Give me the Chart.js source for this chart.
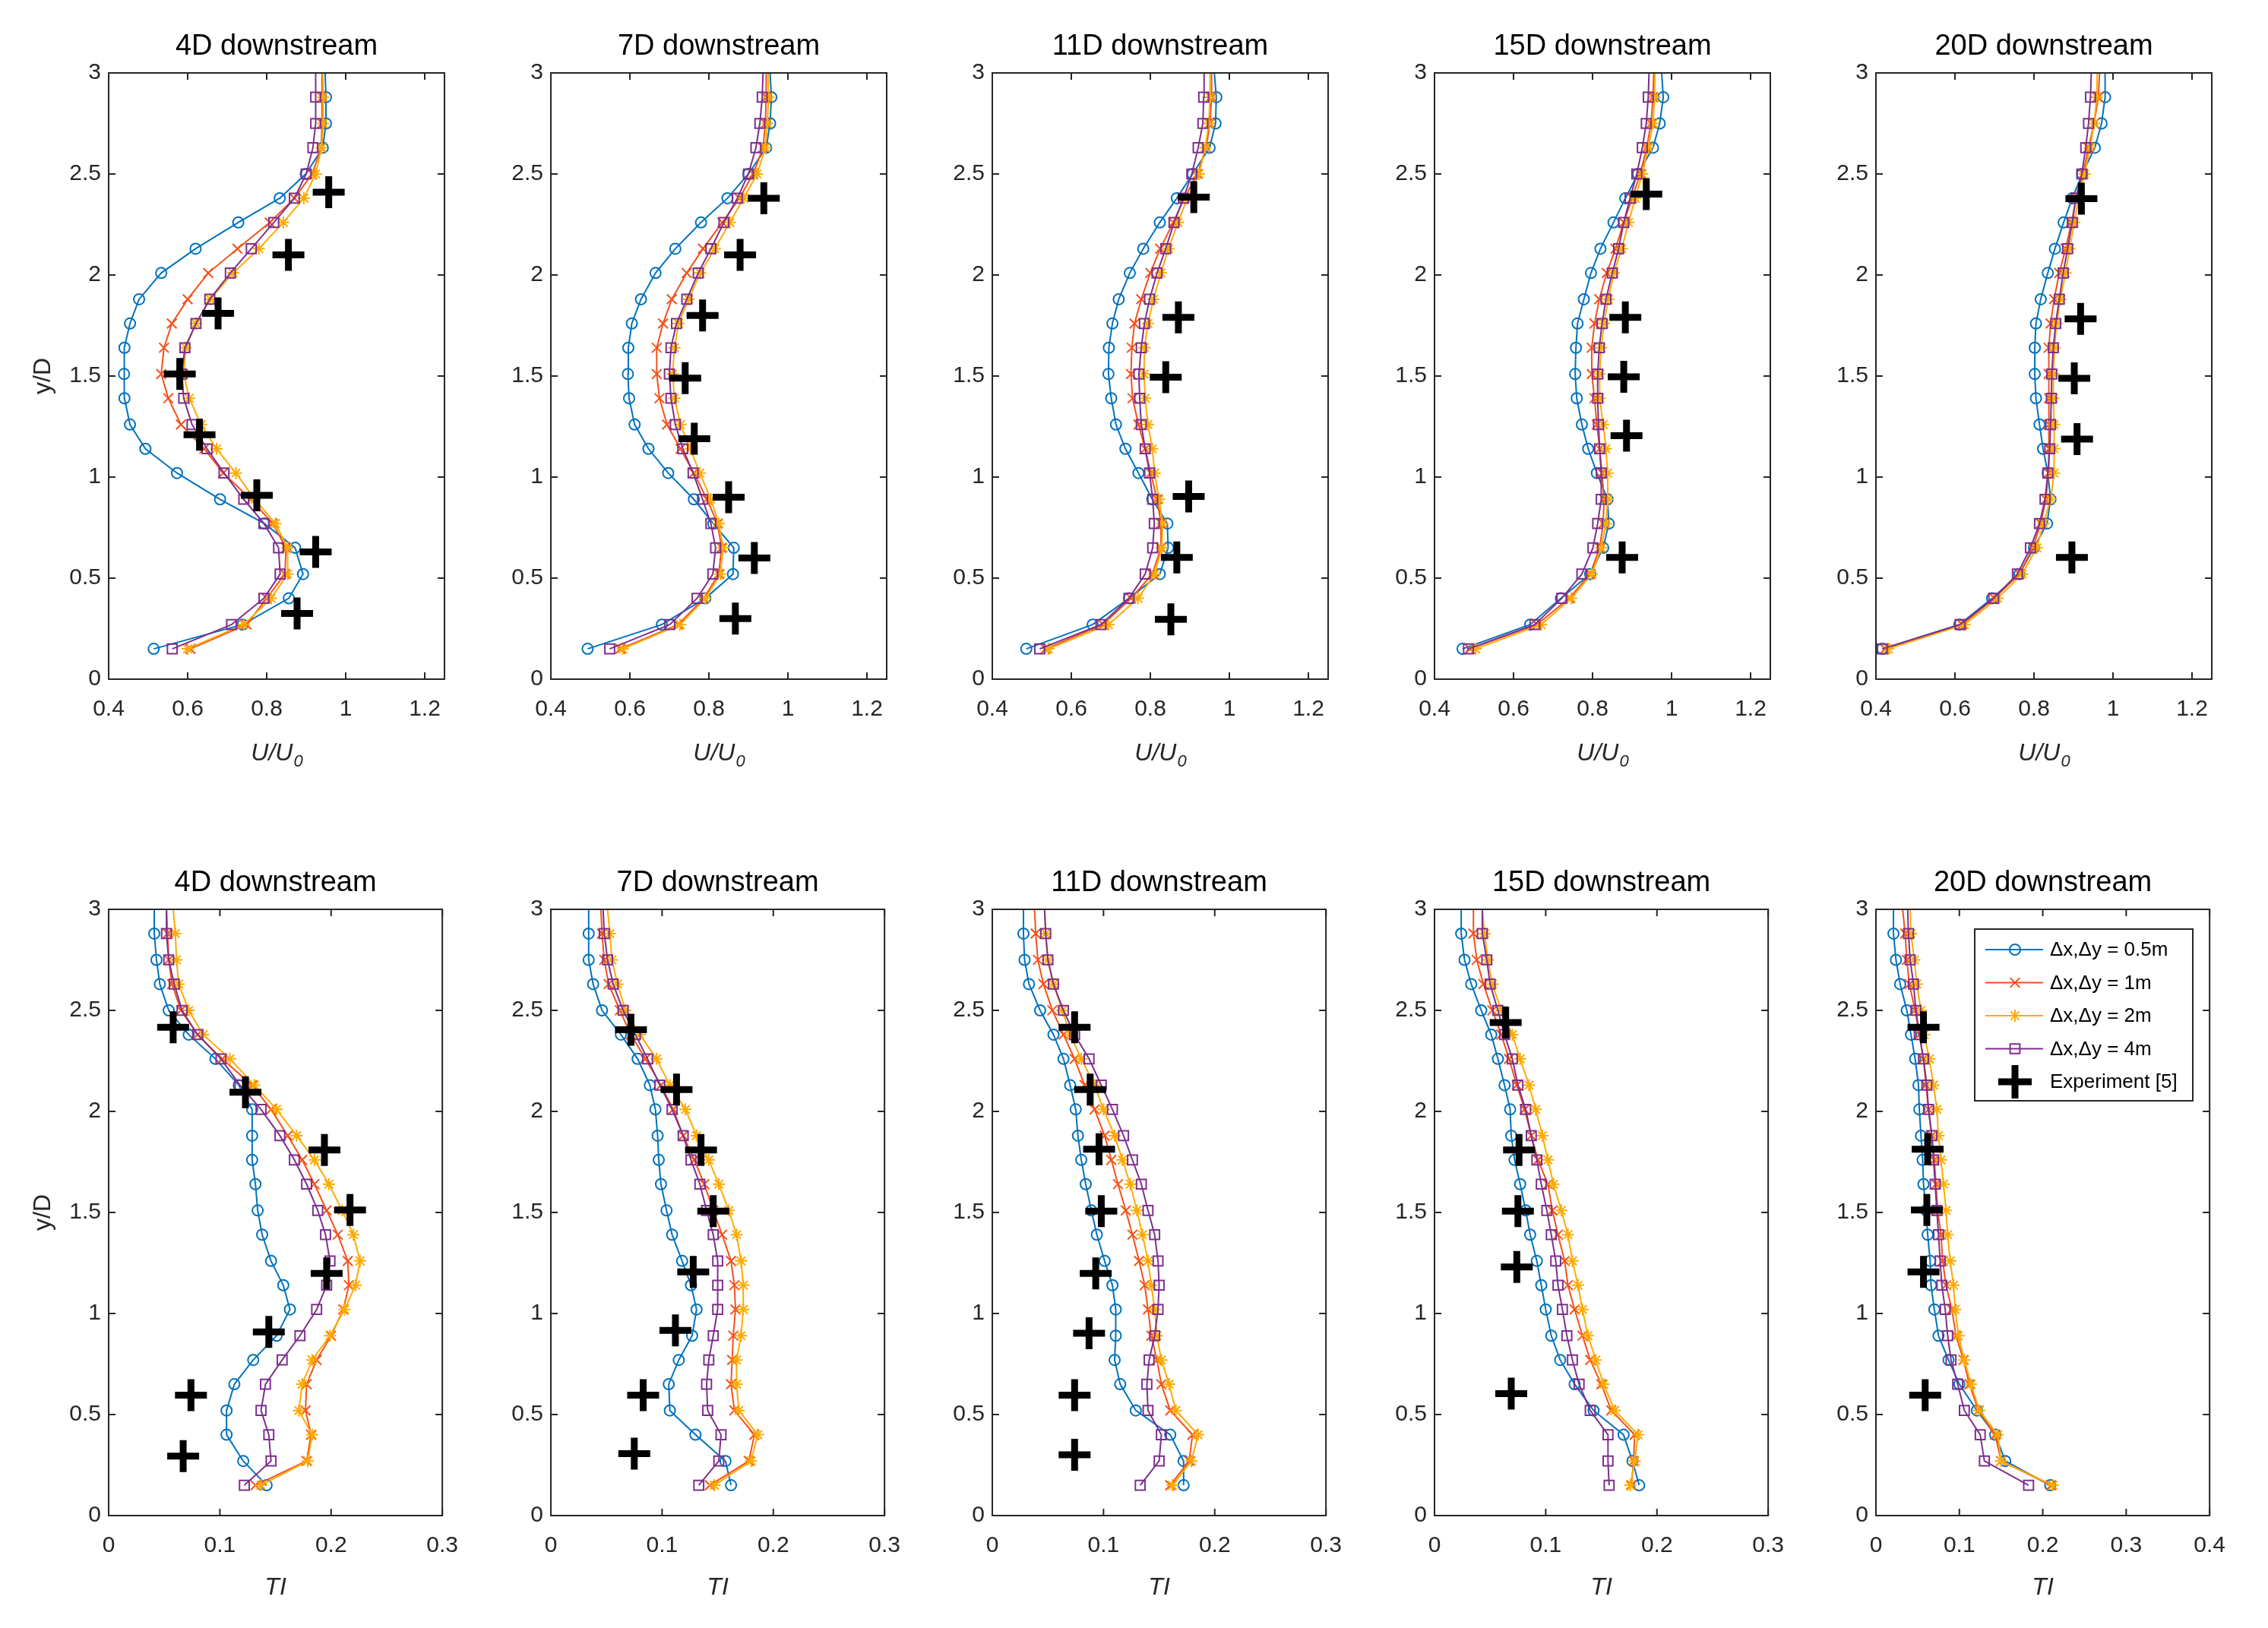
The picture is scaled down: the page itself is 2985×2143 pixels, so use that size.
<!DOCTYPE html>
<html>
<head>
<meta charset="utf-8">
<script src="https://cdn.jsdelivr.net/npm/chart.js@4.4.1/dist/chart.umd.min.js"></script>
<style>
  html, body { margin: 0; padding: 0; background: #fff; }
  body { width: 2985px; height: 2143px; position: relative; overflow: hidden; }
  canvas { position: absolute; }
</style>
</head>
<body>
<script>
// common y/D stations of the simulated profiles (last one = top of domain, no marker)
const yLevels = [0.15, 0.27, 0.40, 0.52, 0.65, 0.77, 0.89, 1.02, 1.14, 1.26, 1.39, 1.51,
  1.64, 1.76, 1.88, 2.01, 2.13, 2.26, 2.38, 2.50, 2.63, 2.75, 2.88, 3.00];

const seriesNames = ['\u0394x,\u0394y = 0.5m', '\u0394x,\u0394y = 1m', '\u0394x,\u0394y = 2m', '\u0394x,\u0394y = 4m'];
const expName = 'Experiment [5]';
const titles = ['4D downstream', '7D downstream', '11D downstream', '15D downstream', '20D downstream'];

// ---- U/U0, top row ----
const u4D_05 = [0.514,0.739,0.856,0.892,0.872,0.794,0.682,0.573,0.493,0.454,0.440,0.439,0.440,0.454,0.477,0.533,0.620,0.728,0.833,0.899,0.942,0.950,0.950,0.948];
const u4D_1  = [0.607,0.749,0.800,0.846,0.849,0.815,0.760,0.690,0.642,0.583,0.551,0.533,0.540,0.560,0.600,0.652,0.726,0.808,0.870,0.915,0.938,0.940,0.940,0.940];
const u4D_2  = [0.600,0.742,0.811,0.853,0.853,0.822,0.770,0.722,0.673,0.634,0.604,0.590,0.595,0.621,0.657,0.715,0.780,0.842,0.894,0.924,0.939,0.943,0.943,0.942];
const u4D_4  = [0.561,0.711,0.793,0.834,0.830,0.793,0.742,0.692,0.649,0.611,0.590,0.585,0.593,0.621,0.656,0.708,0.761,0.818,0.870,0.900,0.917,0.924,0.924,0.924];
const uExp4D_x = [0.957,0.855,0.677,0.580,0.630,0.775,0.924,0.877];
const uExp4D_y = [2.41,2.10,1.81,1.51,1.21,0.91,0.63,0.325];

const u7D_05 = [0.493,0.681,0.791,0.861,0.863,0.811,0.762,0.697,0.647,0.612,0.598,0.595,0.596,0.605,0.628,0.665,0.715,0.780,0.847,0.900,0.945,0.955,0.958,0.955];
const u7D_1  = [0.576,0.722,0.787,0.825,0.832,0.822,0.795,0.762,0.728,0.694,0.675,0.668,0.668,0.684,0.706,0.744,0.785,0.834,0.877,0.912,0.937,0.943,0.945,0.945];
const u7D_2  = [0.582,0.727,0.791,0.829,0.836,0.825,0.805,0.777,0.753,0.728,0.713,0.708,0.713,0.723,0.749,0.778,0.815,0.853,0.888,0.922,0.943,0.948,0.951,0.950];
const u7D_4  = [0.549,0.701,0.770,0.810,0.817,0.805,0.784,0.760,0.734,0.715,0.704,0.700,0.704,0.718,0.744,0.773,0.805,0.838,0.872,0.900,0.919,0.929,0.935,0.937];
const uExp7D_x = [0.939,0.879,0.784,0.740,0.763,0.850,0.915,0.867];
const uExp7D_y = [2.38,2.10,1.80,1.49,1.19,0.90,0.60,0.30];

const u11D_05 = [0.486,0.654,0.746,0.824,0.845,0.843,0.805,0.770,0.737,0.713,0.701,0.694,0.695,0.704,0.720,0.748,0.782,0.824,0.867,0.907,0.950,0.965,0.967,0.962];
const u11D_1  = [0.535,0.680,0.751,0.805,0.827,0.827,0.817,0.801,0.787,0.770,0.755,0.751,0.753,0.760,0.777,0.800,0.825,0.858,0.886,0.919,0.941,0.951,0.955,0.955];
const u11D_2  = [0.542,0.694,0.769,0.811,0.829,0.831,0.822,0.811,0.805,0.794,0.787,0.784,0.785,0.794,0.808,0.827,0.846,0.870,0.894,0.923,0.939,0.948,0.951,0.951];
const u11D_4  = [0.520,0.675,0.746,0.787,0.806,0.810,0.806,0.798,0.787,0.777,0.773,0.771,0.777,0.785,0.798,0.817,0.839,0.860,0.884,0.905,0.921,0.933,0.935,0.936];
const uExp11D_x = [0.910,0.871,0.839,0.897,0.867,0.852];
const uExp11D_y = [2.385,1.79,1.494,0.904,0.602,0.296];

const u15D_05 = [0.471,0.642,0.720,0.794,0.827,0.841,0.838,0.811,0.789,0.773,0.760,0.756,0.758,0.762,0.778,0.796,0.820,0.853,0.883,0.915,0.953,0.970,0.979,0.975];
const u15D_1  = [0.490,0.659,0.741,0.794,0.818,0.827,0.829,0.824,0.818,0.811,0.805,0.798,0.798,0.805,0.817,0.836,0.858,0.879,0.900,0.921,0.937,0.948,0.953,0.955];
const u15D_2  = [0.504,0.670,0.746,0.798,0.822,0.834,0.839,0.838,0.834,0.827,0.818,0.818,0.822,0.829,0.840,0.854,0.874,0.891,0.908,0.926,0.941,0.953,0.957,0.958];
const u15D_4  = [0.486,0.654,0.722,0.773,0.801,0.813,0.822,0.822,0.818,0.815,0.813,0.813,0.817,0.824,0.834,0.850,0.866,0.879,0.895,0.912,0.926,0.936,0.941,0.943];
const uExp15D_x = [0.936,0.883,0.879,0.886,0.875];
const uExp15D_y = [2.40,1.79,1.496,1.205,0.602];

const u20D_05 = [0.416,0.611,0.694,0.763,0.800,0.833,0.842,0.835,0.823,0.814,0.805,0.802,0.802,0.805,0.817,0.835,0.853,0.875,0.897,0.922,0.954,0.971,0.980,0.980];
const u20D_1  = [0.423,0.618,0.700,0.763,0.797,0.817,0.830,0.837,0.838,0.838,0.838,0.837,0.837,0.842,0.851,0.864,0.880,0.895,0.907,0.924,0.938,0.952,0.963,0.966];
const u20D_2  = [0.431,0.624,0.708,0.770,0.807,0.824,0.842,0.851,0.851,0.851,0.849,0.849,0.852,0.857,0.867,0.880,0.890,0.902,0.913,0.928,0.942,0.952,0.959,0.960];
const u20D_4  = [0.416,0.613,0.698,0.758,0.791,0.814,0.828,0.835,0.840,0.842,0.844,0.845,0.849,0.855,0.864,0.874,0.885,0.897,0.906,0.921,0.931,0.938,0.943,0.945];
const uExp20D_x = [0.920,0.918,0.902,0.909,0.896];
const uExp20D_y = [2.378,1.783,1.489,1.188,0.602];

// ---- TI, bottom row ----
const ti4D_05 = [0.142,0.121,0.106,0.106,0.113,0.130,0.151,0.163,0.157,0.146,0.138,0.134,0.132,0.129,0.129,0.129,0.117,0.096,0.072,0.054,0.046,0.043,0.041,0.041];
const ti4D_1  = [0.132,0.178,0.182,0.177,0.178,0.187,0.200,0.211,0.216,0.215,0.206,0.196,0.185,0.174,0.161,0.146,0.129,0.102,0.080,0.065,0.057,0.054,0.053,0.052];
const ti4D_2  = [0.137,0.179,0.183,0.171,0.174,0.183,0.199,0.212,0.222,0.226,0.220,0.210,0.198,0.185,0.169,0.151,0.131,0.109,0.085,0.072,0.063,0.061,0.060,0.058];
const ti4D_4  = [0.122,0.146,0.144,0.137,0.141,0.156,0.172,0.187,0.196,0.199,0.195,0.188,0.178,0.167,0.154,0.137,0.118,0.101,0.080,0.066,0.059,0.054,0.052,0.052];
const tiExp4D_x = [0.058,0.123,0.194,0.217,0.196,0.144,0.074,0.067];
const tiExp4D_y = [2.416,2.095,1.809,1.512,1.198,0.909,0.596,0.294];

const ti7D_05 = [0.162,0.157,0.130,0.107,0.106,0.115,0.127,0.131,0.126,0.118,0.109,0.104,0.099,0.097,0.096,0.094,0.089,0.078,0.063,0.046,0.038,0.034,0.034,0.034];
const ti7D_1  = [0.143,0.178,0.183,0.165,0.162,0.163,0.164,0.166,0.165,0.162,0.154,0.146,0.138,0.129,0.119,0.110,0.099,0.085,0.072,0.062,0.052,0.048,0.046,0.045];
const ti7D_2  = [0.147,0.180,0.186,0.169,0.167,0.167,0.171,0.173,0.173,0.171,0.167,0.160,0.151,0.142,0.131,0.121,0.107,0.095,0.080,0.067,0.060,0.055,0.053,0.051];
const ti7D_4  = [0.133,0.151,0.153,0.141,0.140,0.142,0.146,0.150,0.150,0.150,0.146,0.140,0.134,0.126,0.119,0.109,0.098,0.087,0.076,0.065,0.056,0.051,0.048,0.047];
const tiExp7D_x = [0.072,0.113,0.135,0.146,0.128,0.112,0.083,0.075];
const tiExp7D_y = [2.404,2.108,1.809,1.507,1.206,0.916,0.596,0.306];

const ti11D_05 = [0.172,0.172,0.160,0.129,0.115,0.110,0.111,0.111,0.108,0.101,0.094,0.089,0.084,0.080,0.077,0.075,0.070,0.064,0.055,0.043,0.033,0.029,0.028,0.028];
const ti11D_1  = [0.160,0.177,0.180,0.160,0.152,0.148,0.143,0.140,0.137,0.132,0.126,0.120,0.113,0.107,0.101,0.092,0.083,0.074,0.064,0.054,0.046,0.041,0.039,0.038];
const ti11D_2  = [0.162,0.179,0.185,0.165,0.159,0.152,0.148,0.146,0.143,0.140,0.135,0.130,0.124,0.117,0.110,0.100,0.092,0.080,0.070,0.063,0.055,0.050,0.048,0.047];
const ti11D_4  = [0.133,0.150,0.152,0.140,0.139,0.141,0.146,0.149,0.150,0.149,0.146,0.140,0.134,0.126,0.118,0.108,0.098,0.087,0.074,0.064,0.055,0.050,0.048,0.047];
const tiExp11D_x = [0.074,0.088,0.096,0.098,0.093,0.087,0.074,0.074];
const tiExp11D_y = [2.416,2.108,1.813,1.507,1.198,0.902,0.596,0.301];

const ti15D_05 = [0.184,0.178,0.170,0.143,0.126,0.113,0.105,0.100,0.096,0.092,0.086,0.082,0.077,0.072,0.069,0.068,0.063,0.057,0.051,0.042,0.033,0.027,0.024,0.024];
const ti15D_1  = [0.177,0.179,0.180,0.159,0.150,0.140,0.133,0.126,0.120,0.117,0.111,0.106,0.102,0.093,0.087,0.081,0.074,0.067,0.060,0.052,0.044,0.038,0.035,0.035];
const ti15D_2  = [0.176,0.180,0.183,0.162,0.152,0.145,0.138,0.133,0.129,0.124,0.120,0.114,0.107,0.102,0.097,0.091,0.085,0.077,0.070,0.060,0.052,0.048,0.045,0.043];
const ti15D_4  = [0.157,0.156,0.156,0.140,0.130,0.124,0.119,0.115,0.111,0.109,0.105,0.101,0.096,0.092,0.087,0.082,0.075,0.070,0.063,0.057,0.050,0.047,0.043,0.043];
const tiExp15D_x = [0.064,0.076,0.075,0.074,0.069];
const tiExp15D_y = [2.44,1.809,1.507,1.23,0.603];

const ti20D_05 = [0.209,0.155,0.143,0.121,0.100,0.087,0.075,0.070,0.066,0.065,0.062,0.060,0.057,0.056,0.054,0.052,0.051,0.047,0.042,0.037,0.029,0.024,0.021,0.021];
const ti20D_1  = [0.210,0.150,0.143,0.123,0.112,0.105,0.096,0.091,0.084,0.080,0.078,0.074,0.072,0.070,0.067,0.063,0.060,0.057,0.052,0.047,0.040,0.037,0.035,0.032];
const ti20D_2  = [0.212,0.150,0.146,0.124,0.114,0.106,0.099,0.095,0.093,0.089,0.086,0.084,0.081,0.078,0.075,0.073,0.069,0.064,0.058,0.054,0.049,0.046,0.042,0.041];
const ti20D_4  = [0.183,0.130,0.125,0.106,0.098,0.090,0.086,0.083,0.079,0.077,0.075,0.073,0.071,0.069,0.067,0.063,0.061,0.057,0.052,0.048,0.045,0.041,0.039,0.038];
const tiExp20D_x = [0.057,0.062,0.061,0.057,0.059];
const tiExp20D_y = [2.416,1.813,1.512,1.206,0.596];

// ---- styling ----
const FONT = '"Liberation Sans", Arial, sans-serif';
const AX = '#262626';
const styles = [
  { color: '#0072BD', point: 'circle',   r: 7 },
  { color: '#F5501A', point: 'crossRot', r: 9 },
  { color: '#FFAA00', point: 'star',     r: 8 },
  { color: '#7E2F8E', point: 'rect',     r: 9 }
];
const colLeft = [143, 725, 1306, 1888, 2469];
const rowTop = [96, 1197];
const xLabelGap = [98, 95];
const plotW = 442, plotH = 798;
const padL = 110, padT = 90, padR = 40, padB = 150;

const panels = [
  { row: 0, col: 0, series: [u4D_05, u4D_1, u4D_2, u4D_4], ex: uExp4D_x, ey: uExp4D_y },
  { row: 0, col: 1, series: [u7D_05, u7D_1, u7D_2, u7D_4], ex: uExp7D_x, ey: uExp7D_y },
  { row: 0, col: 2, series: [u11D_05, u11D_1, u11D_2, u11D_4], ex: uExp11D_x, ey: uExp11D_y },
  { row: 0, col: 3, series: [u15D_05, u15D_1, u15D_2, u15D_4], ex: uExp15D_x, ey: uExp15D_y },
  { row: 0, col: 4, series: [u20D_05, u20D_1, u20D_2, u20D_4], ex: uExp20D_x, ey: uExp20D_y },
  { row: 1, col: 0, series: [ti4D_05, ti4D_1, ti4D_2, ti4D_4], ex: tiExp4D_x, ey: tiExp4D_y },
  { row: 1, col: 1, series: [ti7D_05, ti7D_1, ti7D_2, ti7D_4], ex: tiExp7D_x, ey: tiExp7D_y },
  { row: 1, col: 2, series: [ti11D_05, ti11D_1, ti11D_2, ti11D_4], ex: tiExp11D_x, ey: tiExp11D_y },
  { row: 1, col: 3, series: [ti15D_05, ti15D_1, ti15D_2, ti15D_4], ex: tiExp15D_x, ey: tiExp15D_y },
  { row: 1, col: 4, series: [ti20D_05, ti20D_1, ti20D_2, ti20D_4], ex: tiExp20D_x, ey: tiExp20D_y }
];

function fmt(v) { return String(Math.round(v * 100) / 100); }

function marker(ctx, style, x, y, r) {
  const d = r * Math.SQRT1_2;
  ctx.beginPath();
  if (style === 'circle') {
    ctx.arc(x, y, r, 0, Math.PI * 2);
  } else if (style === 'rect') {
    ctx.rect(x - d, y - d, 2 * d, 2 * d);
  } else {
    if (style === 'cross' || style === 'star') {
      ctx.moveTo(x, y - r); ctx.lineTo(x, y + r);
      ctx.moveTo(x - r, y); ctx.lineTo(x + r, y);
    }
    if (style === 'crossRot' || style === 'star') {
      ctx.moveTo(x - d, y - d); ctx.lineTo(x + d, y + d);
      ctx.moveTo(x - d, y + d); ctx.lineTo(x + d, y - d);
    }
  }
  ctx.stroke();
}

// box, inward ticks, titles, axis labels and the legend
const framePlugin = {
  id: 'frame',
  afterDraw(chart, args, opts) {
    const { ctx, chartArea: a, scales } = chart;
    ctx.save();
    ctx.strokeStyle = AX;
    ctx.lineWidth = 2;
    ctx.strokeRect(a.left, a.top, a.right - a.left, a.bottom - a.top);
    const L = 9;
    ctx.beginPath();
    scales.x.ticks.forEach(t => {
      const px = scales.x.getPixelForValue(t.value);
      ctx.moveTo(px, a.bottom); ctx.lineTo(px, a.bottom - L);
      ctx.moveTo(px, a.top); ctx.lineTo(px, a.top + L);
    });
    scales.y.ticks.forEach(t => {
      const py = scales.y.getPixelForValue(t.value);
      ctx.moveTo(a.left, py); ctx.lineTo(a.left + L, py);
      ctx.moveTo(a.right, py); ctx.lineTo(a.right - L, py);
    });
    ctx.stroke();

    const cx = (a.left + a.right) / 2;
    ctx.fillStyle = '#000';
    ctx.font = '38px ' + FONT;
    ctx.textAlign = 'center';
    ctx.textBaseline = 'middle';
    ctx.fillText(opts.title, cx, a.top - 34);

    ctx.fillStyle = AX;
    ctx.font = 'italic 32px ' + FONT;
    const w1 = ctx.measureText(opts.xMain).width;
    ctx.font = 'italic 22px ' + FONT;
    const w2 = opts.xSub ? ctx.measureText(opts.xSub).width : 0;
    const x0 = cx - (w1 + w2) / 2;
    ctx.textAlign = 'left';
    ctx.font = 'italic 32px ' + FONT;
    ctx.fillText(opts.xMain, x0, a.bottom + opts.xGap);
    if (opts.xSub) {
      ctx.font = 'italic 22px ' + FONT;
      ctx.fillText(opts.xSub, x0 + w1 + 1, a.bottom + opts.xGap + 11);
    }

    if (opts.yLabel) {
      ctx.save();
      ctx.translate(24, (a.top + a.bottom) / 2);
      ctx.rotate(-Math.PI / 2);
      ctx.textAlign = 'center';
      ctx.font = '32px ' + FONT;
      ctx.fillText(opts.yLabel, 0, 0);
      ctx.restore();
    }

    if (opts.legend) {
      const bx = a.left + 130, by = a.top + 26, bw = 287, bh = 226;
      ctx.fillStyle = '#fff';
      ctx.fillRect(bx, by, bw, bh);
      ctx.strokeStyle = AX;
      ctx.lineWidth = 2;
      ctx.strokeRect(bx, by, bw, bh);
      ctx.font = '26px ' + FONT;
      ctx.textAlign = 'left';
      ctx.textBaseline = 'middle';
      chart.data.datasets.forEach((ds, i) => {
        const ry = a.top + 53 + i * 43.5;
        ctx.strokeStyle = ds.borderColor;
        ctx.lineWidth = ds.pointBorderWidth;
        if (ds.showLine) {
          ctx.lineWidth = 2;
          ctx.beginPath();
          ctx.moveTo(a.left + 144, ry); ctx.lineTo(a.left + 220, ry);
          ctx.stroke();
          marker(ctx, ds.pointStyle, a.left + 183, ry, styles[i].r);
        } else {
          marker(ctx, ds.pointStyle, a.left + 183, ry, 22);
        }
        ctx.fillStyle = '#000';
        ctx.fillText(ds.label, a.left + 229, ry + 1);
      });
    }
    ctx.restore();
  }
};

panels.forEach((p, k) => {
  const canvas = document.createElement('canvas');
  const w = padL + plotW + padR, h = padT + plotH + padB;
  canvas.width = w; canvas.height = h;
  canvas.style.width = w + 'px'; canvas.style.height = h + 'px';
  canvas.style.left = (colLeft[p.col] - padL) + 'px';
  canvas.style.top = (rowTop[p.row] - padT) + 'px';
  document.body.appendChild(canvas);

  const last = yLevels.length - 1;
  const datasets = p.series.map((vals, i) => ({
    label: seriesNames[i],
    data: yLevels.map((y, j) => ({ x: vals[j], y: y })),
    showLine: true,
    borderColor: styles[i].color,
    backgroundColor: 'rgba(0,0,0,0)',
    borderWidth: 2,
    pointStyle: styles[i].point,
    pointRadius: yLevels.map((y, j) => (j === last ? 0 : styles[i].r)),
    pointBorderColor: styles[i].color,
    pointBackgroundColor: 'rgba(0,0,0,0)',
    pointBorderWidth: 2,
    tension: 0,
    order: 4 - i
  }));
  datasets.push({
    label: expName,
    data: p.ex.map((x, j) => ({ x: x, y: p.ey[j] })),
    showLine: false,
    borderColor: '#000',
    backgroundColor: '#000',
    pointStyle: 'cross',
    pointRadius: 21,
    pointBorderColor: '#000',
    pointBorderWidth: 9,
    order: 0
  });

  const isU = p.row === 0;
  const xMax = isU ? 1.25 : (p.col === 4 ? 0.4 : 0.3);

  new Chart(canvas, {
    type: 'scatter',
    data: { datasets: datasets },
    options: {
      responsive: false,
      animation: false,
      devicePixelRatio: 1,
      events: [],
      layout: { padding: { top: padT, right: padR, left: 0, bottom: 0 }, autoPadding: false },
      scales: {
        x: {
          type: 'linear',
          min: isU ? 0.4 : 0,
          max: xMax,
          grid: { display: false, drawTicks: false },
          border: { display: false },
          ticks: { stepSize: isU ? 0.2 : 0.1, includeBounds: false, padding: 22, color: AX,
            font: { family: FONT, size: 30 }, callback: fmt, maxRotation: 0, autoSkip: false },
          afterFit(s) { s.height = padB; }
        },
        y: {
          type: 'linear',
          min: 0,
          max: 3,
          grid: { display: false, drawTicks: false },
          border: { display: false },
          ticks: { stepSize: 0.5, padding: 10, color: AX,
            font: { family: FONT, size: 30 }, callback: fmt, autoSkip: false },
          afterFit(s) { s.width = padL; }
        }
      },
      plugins: {
        legend: { display: false },
        tooltip: { enabled: false },
        frame: {
          title: titles[p.col],
          xMain: isU ? 'U/U' : 'TI',
          xSub: isU ? '0' : '',
          xGap: xLabelGap[p.row],
          yLabel: p.col === 0 ? 'y/D' : '',
          legend: k === panels.length - 1
        }
      }
    },
    plugins: [framePlugin]
  });
});
</script>
</body>
</html>
